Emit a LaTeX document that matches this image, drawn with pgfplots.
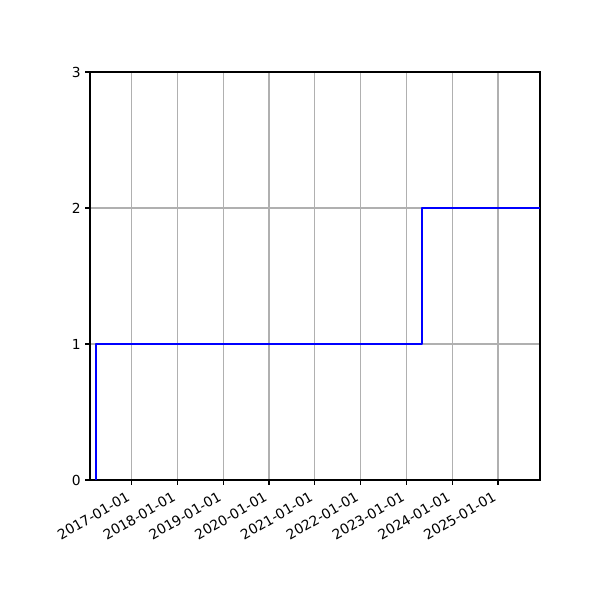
\documentclass[border=0pt]{standalone}
\usepackage{fontspec}
\setmainfont{DejaVu Sans}
\usepackage{pgfplots}
\pgfplotsset{compat=1.18}
\definecolor{gridgray}{HTML}{B0B0B0}
\begin{document}
\begin{tikzpicture}
  \useasboundingbox (-0.9in,-1.2in) rectangle (5.1in,4.8in);
  \begin{axis}[
    at={(0,0)}, anchor=south west,
    scale only axis,
    width=4.5in, height=4.08in,
    xmin=2016.09, xmax=2025.917,
    ymin=0, ymax=3,
    xtick={2017,2018,2019,2020,2021,2022,2023,2024,2025},
    xticklabels={2017-01-01,2018-01-01,2019-01-01,2020-01-01,2021-01-01,2022-01-01,2023-01-01,2024-01-01,2025-01-01},
    ytick={0,1,2,3},
    xticklabel style={xshift=-4pt, yshift=-3pt, rotate=30, anchor=north east, inner sep=1pt},
    yticklabel style={inner sep=1pt, xshift=-2pt},
    tick label style={font=\fontsize{10}{12}\selectfont},
    /pgf/number format/assume math mode=true,
    tick align=outside,
    tick pos=left,
    major tick length=3.5pt,
    every tick/.style={black, line width=0.8pt},
    axis line style={line width=0.8pt},
    grid=major,
    grid style={gridgray, line width=0.8pt},
  ]
  \addplot[color=blue, line width=1.5pt, line join=round] coordinates {
    (2016.221,0)(2016.221,1)(2023.35,1)(2023.35,2)(2025.917,2)
  };
  \end{axis}
\end{tikzpicture}
\end{document}
